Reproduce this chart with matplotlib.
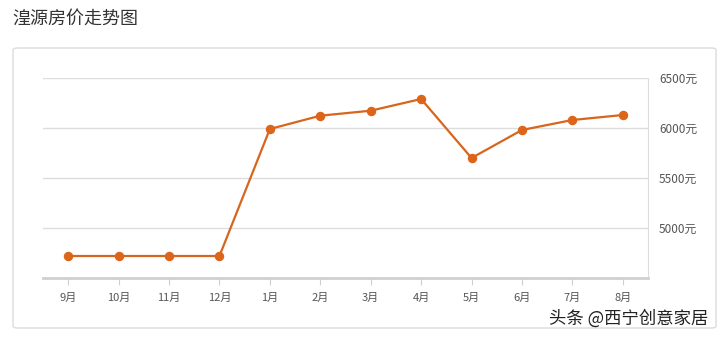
import matplotlib.pyplot as plt
from matplotlib.patches import FancyBboxPatch

plt.rcParams['font.family'] = ['Noto Sans CJK SC', 'DejaVu Sans']

# 数据
months = ["9月", "10月", "11月", "12月", "1月", "2月", "3月", "4月", "5月", "6月", "7月", "8月"]
prices = [4720, 4720, 4720, 4720, 5990, 6123, 6173, 6290, 5700, 5980, 6080, 6130]
y_ticks = [5000, 5500, 6000, 6500]
y_labels = [f"{v}元" for v in y_ticks]

fig = plt.figure(figsize=(7.19, 3.39), dpi=100)

# 卡片边框（放在坐标轴下面）
card = FancyBboxPatch((13 / 719, (339 - 328) / 339), (716 - 13) / 719, (328 - 48) / 339,
                      boxstyle="round,pad=0,rounding_size=0.006",
                      transform=fig.transFigure, facecolor="white",
                      edgecolor="#dcdcdc", linewidth=1, zorder=-1)
fig.patches.append(card)

fig.text(12 / 719, 1 - 19 / 339, "湟源房价走势图", fontsize=13, color="#333333",
         va="center", ha="left")

ax = fig.add_axes([43 / 719, (339 - 278) / 339, (648 - 43) / 719, 200 / 339])
ax.set_facecolor("none")

x = list(range(len(months)))
ax.plot(x, prices, color="#d8651c", linewidth=1.6, marker="o", markersize=5.8,
        markerfacecolor="#dd651a", markeredgecolor="#dd651a", zorder=3)

ax.set_xlim(-0.5, len(months) - 0.5)
ax.set_ylim(4500, 6500)
ax.set_xticks(x)
ax.set_xticklabels(months, fontsize=8, color="#555555")
ax.yaxis.tick_right()
ax.set_yticks(y_ticks)
ax.set_yticklabels(y_labels, fontsize=8.5, color="#555555")
ax.tick_params(axis="y", length=0, pad=8)
ax.tick_params(axis="x", length=5, color="#d0d0d0", pad=6)
ax.grid(axis="y", color="#dddddd", linewidth=1)
for s in ["top", "left"]:
    ax.spines[s].set_visible(False)
ax.spines["right"].set_color("#dddddd")
ax.spines["bottom"].set_color("#d0d0d0")
ax.spines["bottom"].set_linewidth(2)

fig.text(708 / 719, 1 - 318 / 339, "头条 @西宁创意家居", fontsize=12.5, color="#222222",
         ha="right", va="center")

fig.savefig("out.png", dpi=100)
